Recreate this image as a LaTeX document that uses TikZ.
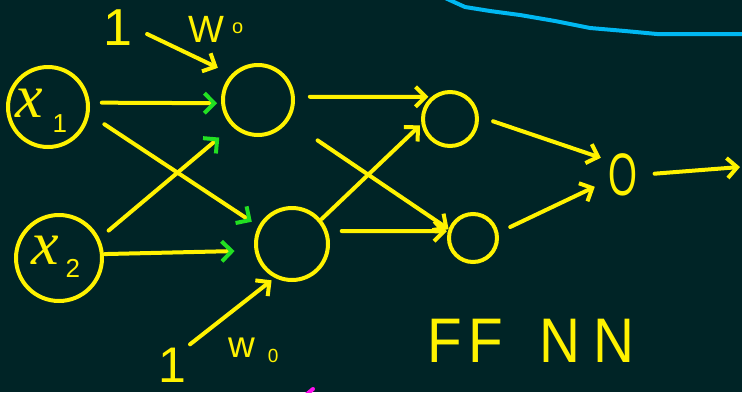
\documentclass[tikz,border=0pt]{standalone}
\usepackage{fontspec}
\setmainfont{Liberation Sans}
\newfontfamily\handit{Liberation Serif}
\usetikzlibrary{arrows.meta}
\definecolor{bg}{HTML}{002426}
\definecolor{ink}{HTML}{FFF200}
\definecolor{grn}{HTML}{22E022}
\definecolor{sky}{HTML}{00B8F2}
\definecolor{mag}{HTML}{FF10F0}
\tikzset{
  neuron/.style={circle, draw=ink, line width=4pt, inner sep=0pt},
  lbl/.style={text=ink, inner sep=0pt},
  wire/.style={draw=ink, line width=4pt, line cap=round, -{Straight Barb[length=10pt,width=20pt]}},
  gwire/.style={draw=ink, line width=4pt, line cap=round, -{Straight Barb[length=10pt,width=20pt,color=grn]}},
}
\begin{document}
\begin{tikzpicture}[x=1pt,y=-1pt]
\useasboundingbox (0,0) rectangle (742,392);
\fill[bg] (0,0) rectangle (742,392);
% blue curve
\draw[sky, line width=4pt] plot coordinates {(443,-3) (465,7) (490,11) (520,15) (555,21) (590,28) (625,31) (657,34) (745,34)};
% magenta fragment
\draw[mag, line width=4pt, line cap=round] (307,394) -- (313,389);

% neurons
\node[neuron, minimum size=80pt] (x1) at (48,107) {};
\node[neuron, minimum size=86pt] (x2) at (59,258) {};
\node[neuron, minimum size=70pt] (h1) at (258,100) {};
\node[neuron, minimum size=72pt] (h2) at (292,244) {};
\node[neuron, minimum size=54pt] (h3) at (450,119) {};
\node[neuron, minimum size=48pt] (h4) at (473,238) {};
\node[lbl, font=\fontsize{60}{60}\selectfont] (o) at (623,175) {\scalebox{0.62}[1]{O}};
\coordinate (out) at (740,167);

% input labels
\node[lbl, anchor=base west] (x1lab) at (15,117) {{\fontsize{62}{62}\selectfont\handit\itshape x}\hspace{10pt}\raisebox{-15pt}{\fontsize{26}{26}\selectfont 1}};
\node[lbl, anchor=base west] (x2lab) at (31,264) {{\fontsize{62}{62}\selectfont\handit\itshape x}\hspace{7pt}\raisebox{-13pt}{\fontsize{26}{26}\selectfont 2}};

% bias labels
\node[lbl, anchor=base, font=\fontsize{52}{52}\selectfont] (one1) at (118,45) {1};
\node[lbl, anchor=base west, font=\fontsize{38}{38}\selectfont] (w1) at (188,42) {W\hspace{8pt}\raisebox{9pt}{\fontsize{20}{20}\selectfont o}};
\node[lbl, anchor=base, font=\fontsize{50}{50}\selectfont] (one2) at (172,382) {1};
\node[lbl, anchor=base west, font=\fontsize{37}{37}\selectfont] (w2) at (228,357) {w\hspace{13pt}\raisebox{-5pt}{\fontsize{19}{19}\selectfont 0}};

% title
\node[lbl, anchor=base west, font=\fontsize{63}{63}\selectfont] (title) at (427,362) {\scalebox{0.9}[1]{F\hspace{8pt}F\hspace{40pt}N\hspace{14pt}N}};

% input -> hidden (green heads)
\draw[gwire, shorten <=12pt, shorten >=4pt] (x1.6) -- (h1.185);
\draw[gwire, shorten <=18pt, shorten >=8pt] (x1.-10) -- (h2.152);
\draw[gwire, shorten <=12pt, shorten >=17pt] (x2.26) -- (h1.226);
\draw[gwire, shorten <=1pt, shorten >=20pt] (x2.5) -- (h2.190);

% bias arrows
\draw[wire, shorten <=16pt, shorten >=15pt] (one1.east) -- (h1.136);
\draw[wire, shorten <=5pt, shorten >=4pt] (one2.north east) -- (h2.243);

% hidden -> hidden
\draw[wire, shorten <=15pt, shorten >=3pt] (h1.5) -- (h3.130);
\draw[wire, shorten <=35pt, shorten >=0pt] (h1) -- (h4.160);
\draw[wire, shorten <=1pt, shorten >=2pt] (h2.40) -- (h3.190);
\draw[wire, shorten <=14pt, shorten >=1pt] (h2.20) -- (h4.165);

% hidden -> output
\draw[wire, shorten <=15pt, shorten >=8pt] (h3.5) -- (o.135);
\draw[wire, shorten <=13pt, shorten >=15pt] (h4.12) -- (o.200);
\draw[wire, shorten <=17pt] (o.east) -- (out);
\end{tikzpicture}
\end{document}
